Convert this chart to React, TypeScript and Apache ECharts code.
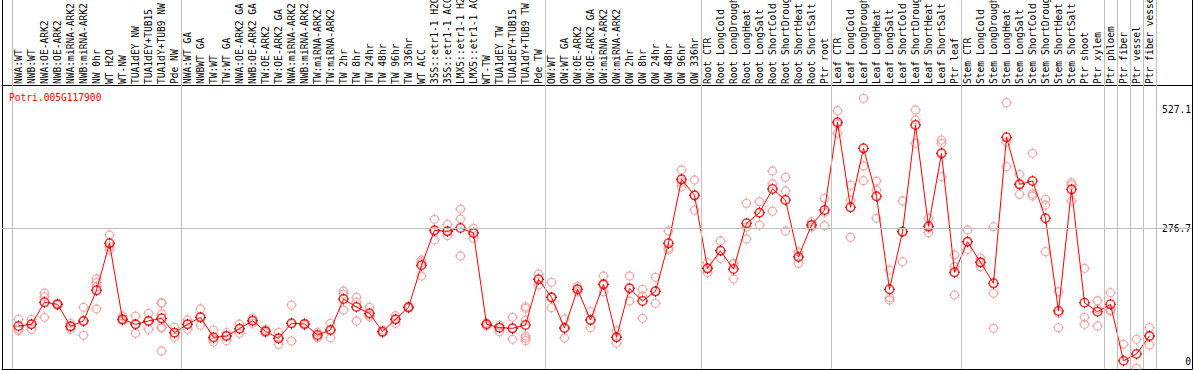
import React, { useEffect, useRef } from "react";
import * as echarts from "echarts";

const categories = [
  "NWA:WT", "NWB:WT", "NWA:OE-ARK2", "NWB:OE-ARK2", "NWA:miRNA-ARK2", "NWB:miRNA-ARK2",
  "NW 0hr", "WT H2O", "WT-NW", "TUA1dEY NW", "TUA1dEY+TUB15", "TUA1dY+TUB9 NW", "Pde NW",
  "NWA:WT GA", "NWBWT GA", "TW:WT", "TW:WT GA", "NWA:OE-ARK2 GA", "NWB:OE-ARK2 GA",
  "TW:OE-ARK2", "TW:OE-ARK2 GA", "NWA:miRNA-ARK2", "NWB:miRNA-ARK2", "TW:miRNA-ARK2",
  "TW:miRNA-ARK2", "TW 2hr", "TW 8hr", "TW 24hr", "TW 48hr", "TW 96hr", "TW 336hr", "WT ACC",
  "35S::etr1-1 H2O", "35S::etr1-1 ACC", "LMX5::etr1-1 H2O", "LMX5::etr1-1 ACC", "WT-TW",
  "TUA1dEY TW", "TUA1dEY+TUB15", "TUA1dY+TUB9 TW", "Pde TW",
  "OW:WT", "OW:WT GA", "OW:OE-ARK2", "OW:OE-ARK2 GA", "OW:miRNA-ARK2", "OW:miRNA-ARK2",
  "OW 2hr", "OW 8hr", "OW 24hr", "OW 48hr", "OW 96hr", "OW 336hr",
  "Root CTR", "Root LongCold", "Root LongDrought", "Root LongHeat", "Root LongSalt",
  "Root ShortCold", "Root ShortDrought", "Root ShortHeat", "Root ShortSalt", "Ptr root",
  "Leaf CTR", "Leaf LongCold", "Leaf LongDrought", "Leaf LongHeat", "Leaf LongSalt",
  "Leaf ShortCold", "Leaf ShortDrought", "Leaf ShortHeat", "Leaf ShortSalt", "Ptr leaf",
  "Stem CTR", "Stem LongCold", "Stem LongDrought", "Stem LongHeat", "Stem LongSalt",
  "Stem ShortCold", "Stem ShortDrought", "Stem ShortHeat", "Stem ShortSalt", "Ptr shoot", "Ptr xylem",
  "Ptr phloem", "Ptr fiber", "Ptr vessel", "Ptr fiber vessel",
];

const groupSizes = [13, 28, 12, 10, 10, 11, 1, 1, 1, 1];

const means = [
  73.2, 76.8, 122.8, 118.6, 72.6, 83.7, 147.9, 246.2, 87.2, 76.8, 83.7, 89.3, 59.2,
  76.8, 91.4, 49.6, 52.3, 67.6, 84.3, 62.1, 47.5, 78.9, 77.4, 54.4, 64.8, 129.7, 112.9, 99.8,
  61.3, 87.2, 112.3, 200.2, 273.4, 271.3, 278.2, 267.7, 76.8, 69.7, 68.4, 75.3, 170.9,
  133.2, 69.0, 150.0, 85.8, 160.4, 49.6, 152.1, 125.5, 145.8, 246.2, 380.0, 346.6,
  193.9, 230.7, 192.4, 288.0, 310.2, 359.8, 336.7, 217.5, 284.5, 315.8,
  499.3, 321.5, 444.9, 344.5, 150.0, 270.4, 493.6, 281.7, 434.4, 185.5,
  249.5, 206.4, 162.5, 467.9, 369.6, 376.5, 298.5, 104.6, 359.1, 121.9, 103.1,
  118.6, 0.5, 14.6, 52.3,
];

const replicates = [
  [87.2, 66.3, 63.4], [87.2, 66.3, 76.8], [142.2, 134.5, 91.4], [120.7, 116.5, 118.6],
  [78.9, 66.3, 72.6], [112.3, 53.8, 83.7], [172.1, 163.8, 155.4, 108.8], [263.5, 239.1, 232.2],
  [94.1, 83.7, 87.2], [94.1, 57.9, 76.8], [99.8, 66.3, 83.7], [121.9, 120.7, 98.3, 70.5, 69.0, 20.9],
  [70.5, 49.6, 59.2],
  [85.8, 66.3, 76.8], [108.8, 74.7, 91.4], [64.8, 39.7, 46.0], [59.2, 42.5, 53.0],
  [77.4, 57.9, 67.6], [89.3, 78.9, 84.3], [66.3, 59.2, 62.1], [60.0, 34.9, 47.5],
  [117.1, 41.8, 77.8], [78.9, 74.7, 77.4], [50.8, 48.7, 60.0], [78.9, 48.7, 64.8],
  [146.4, 140.1, 106.7], [133.2, 83.7, 123.0], [112.3, 92.7, 96.0], [64.8, 58.6, 61.3],
  [94.7, 78.9, 87.2], [114.4, 110.2, 112.3], [211.3, 177.8, 206.0], [296.4, 253.1, 270.4],
  [285.9, 262.1, 271.3], [317.9, 297.0, 219.6], [277.6, 256.6, 267.7], [73.2, 79.5, 76.8],
  [74.7, 61.3, 69.7], [91.4, 45.4, 68.4], [113.6, 110.2, 85.8, 52.3, 47.5, 42.5], [182.0, 159.0, 170.9],
  [164.6, 111.5, 133.2], [87.8, 48.1, 69.0], [155.4, 144.9, 150.0], [103.1, 69.7, 85.8],
  [177.8, 144.9, 160.4], [63.4, 37.0, 49.6], [177.8, 125.5, 152.1], [150.0, 89.3, 136.0],
  [175.1, 120.7, 145.8], [271.9, 232.2, 236.0], [399.5, 364.6, 374.0], [378.6, 315.8, 346.6],
  [205.6, 184.7, 193.9], [251.0, 214.8, 230.7], [204.3, 171.5, 203.0], [329.8, 255.2, 280.0],
  [333.2, 284.5, 310.2], [397.4, 370.2, 313.7], [384.2, 355.6, 271.9], [204.3, 228.0, 217.5],
  [291.4, 279.7, 284.5], [340.3, 283.0, 311.0],
  [523.5, 476.3, 496.0], [368.1, 336.7, 258.7], [549.5, 407.9, 377.1], [376.5, 357.7, 298.5],
  [190.3, 132.4, 127.6], [334.7, 207.7, 270.4], [525.0, 504.1, 455.3], [298.5, 268.4, 278.0],
  [462.2, 455.3, 385.5], [221.7, 197.2, 138.0],
  [274.0, 233.6, 249.5], [197.2, 215.4, 206.4], [280.9, 141.6, 68.4], [540.3, 406.4, 458.0],
  [390.5, 348.7, 369.6], [434.4, 349.3, 345.1], [338.2, 326.3, 228.6], [144.9, 99.8, 69.7],
  [372.9, 368.6, 334.7], [193.9, 91.4, 76.8], [126.1, 108.1, 73.2],
  [142.9, 104.6, 106.7], [34.9, -17.0, -17.0], [45.4, -15.3], [69.7, 33.5, 52.3],
];

const yTickLabels = [0, 276.7, 527.1];
const gridLineValue = 276.7;
const geneName = "Potri.005G117900";

const MONO = "'DejaVu Sans Mono', 'Liberation Mono', monospace";
const FS = 9.6;

const ringPath =
  "path://M1.5,5.5 A4,4 0 1,0 9.5,5.5 A4,4 0 1,0 1.5,5.5 Z";
const tickPath =
  "path://M5.5,0 L5.5,1.6 M5.5,9.4 L5.5,11 M0,5.5 L1.6,5.5 M9.4,5.5 L11,5.5 M0,0 M11,11";

export default function App() {
  const ref = useRef<HTMLDivElement>(null);

  useEffect(() => {
    if (!ref.current) return;
    const chart = echarts.init(ref.current, null, { renderer: "svg" });

    const boundaries: number[] = [-0.5];
    let acc = 0;
    for (const g of groupSizes) {
      acc += g;
      boundaries.push(acc - 0.5);
    }

    const repData: number[][] = [];
    replicates.forEach((reps, i) => reps.forEach((v) => repData.push([i, v])));
    const meanData = means.map((v, i) => [i, v]);

    const xMin = -16.5 / 13;
    const xMax = xMin + 1190 / 13;
    const yMin = -16.7;
    const yMax = 755.1;

    chart.setOption({
      animation: false,
      backgroundColor: "#ffffff",
      title: {
        text: geneName,
        left: 9,
        top: 92,
        padding: 0,
        textStyle: { color: "#ff0000", fontFamily: MONO, fontSize: FS, fontWeight: "normal" },
      },
      grid: [
        { left: 2, right: 2, top: 0, bottom: 1, containLabel: false },
        { left: 12, width: 1144, top: 84, height: 1, containLabel: false },
      ],
      xAxis: [
        {
          type: "value",
          gridIndex: 0,
          position: "top",
          offset: -85,
          min: xMin,
          max: xMax,
          axisLine: { show: true, onZero: false, lineStyle: { color: "#000", width: 1 } },
          axisTick: { show: false },
          splitLine: { show: false },
          axisLabel: { show: false },
        },
        {
          type: "value",
          gridIndex: 0,
          position: "bottom",
          min: xMin,
          max: xMax,
          axisLine: { show: true, onZero: false, lineStyle: { color: "#000", width: 1 } },
          axisTick: { show: false },
          axisLabel: { show: false },
          splitLine: { show: false },
        },
        {
          type: "category",
          gridIndex: 1,
          position: "top",
          data: categories,
          boundaryGap: true,
          axisLine: { show: false, onZero: false },
          axisTick: { show: false },
          splitLine: { show: false },
          axisLabel: {
            show: true,
            interval: 0,
            rotate: -90,
            align: "left",
            verticalAlign: "middle",
            margin: 1,
            color: "#000",
            fontFamily: MONO,
            fontSize: FS,
          },
        },
      ],
      yAxis: [
        {
          type: "value",
          gridIndex: 0,
          position: "right",
          min: yMin,
          max: yMax,
          axisLine: { show: true, onZero: false, lineStyle: { color: "#000", width: 1 } },
          axisTick: { show: false },
          splitLine: { show: false },
          axisLabel: {
            show: true,
            inside: true,
            margin: 1,
            customValues: yTickLabels,
            formatter: (v: number) => String(v),
            color: "#000",
            fontFamily: MONO,
            fontSize: FS,
          },
        },
        {
          type: "value",
          gridIndex: 0,
          position: "left",
          min: yMin,
          max: yMax,
          axisLine: { show: true, onZero: false, lineStyle: { color: "#000", width: 1 } },
          axisTick: { show: false },
          axisLabel: { show: false },
          splitLine: { show: false },
        },
        {
          type: "value",
          gridIndex: 1,
          show: false,
        },
      ],
      series: [
        {
          type: "scatter",
          name: "grid",
          xAxisIndex: 0,
          yAxisIndex: 0,
          data: [],
          z: 1,
          markLine: {
            silent: true,
            symbol: "none",
            animation: false,
            label: { show: false },
            lineStyle: { color: "#c0c0c0", width: 1, type: "solid" },
            data: [
              { yAxis: gridLineValue },
              ...boundaries.map((b) => ({ xAxis: b })),
            ],
          },
        },
        {
          type: "scatter",
          name: "replicates",
          xAxisIndex: 0,
          yAxisIndex: 0,
          data: repData,
          z: 2,
          symbol: tickPath,
          symbolSize: 11,
          itemStyle: { color: "none", borderColor: "#f29a9a", borderWidth: 1 },
        },
        {
          type: "scatter",
          name: "replicateRings",
          xAxisIndex: 0,
          yAxisIndex: 0,
          data: repData,
          z: 2,
          symbol: ringPath,
          symbolSize: 8,
          itemStyle: { color: "none", borderColor: "#f29a9a", borderWidth: 1.3 },
        },
        {
          type: "line",
          name: "mean",
          xAxisIndex: 0,
          yAxisIndex: 0,
          data: meanData,
          z: 3,
          symbol: "none",
          lineStyle: { color: "#ff0000", width: 1 },
        },
        {
          type: "scatter",
          name: "meanTicks",
          xAxisIndex: 0,
          yAxisIndex: 0,
          data: meanData,
          z: 4,
          symbol: tickPath,
          symbolSize: 11,
          itemStyle: { color: "none", borderColor: "#000000", borderWidth: 1 },
        },
        {
          type: "scatter",
          name: "meanRings",
          xAxisIndex: 0,
          yAxisIndex: 0,
          data: meanData,
          z: 4,
          symbol: ringPath,
          symbolSize: 8.5,
          itemStyle: { color: "none", borderColor: "#ff0000", borderWidth: 1.6 },
        },
      ],
    });

    return () => chart.dispose();
  }, []);

  return (
    <div
      ref={ref}
      style={{ position: "absolute", left: 0, top: 0, width: 1194, height: 370 }}
    />
  );
}
